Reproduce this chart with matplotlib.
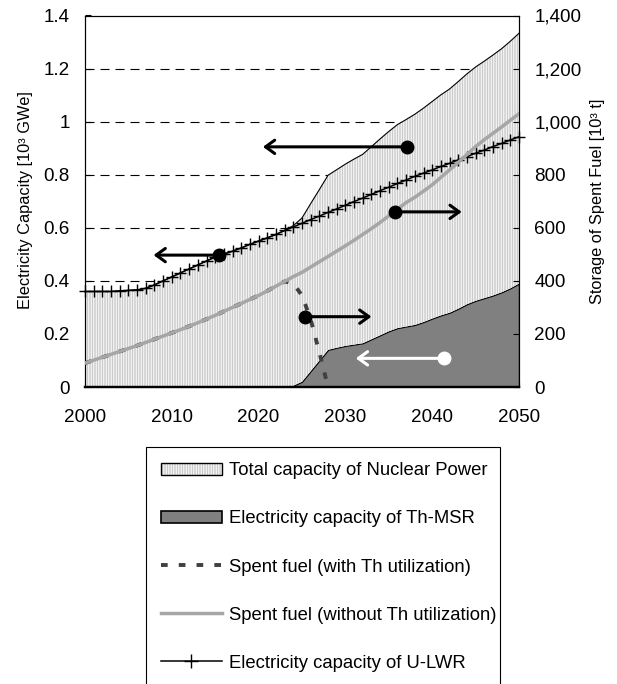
import numpy as np
import matplotlib
matplotlib.use('Agg')
import matplotlib.pyplot as plt
from matplotlib.patches import Patch
from matplotlib.lines import Line2D
from matplotlib.ticker import MultipleLocator, FuncFormatter

plt.rcParams['font.family'] = ['Liberation Sans', 'DejaVu Sans']
plt.rcParams['hatch.linewidth'] = 0.5
plt.rcParams['lines.scale_dashes'] = False

# ---- data ----
years = list(range(2000, 2051))

# electricity capacity of U-LWR [10^3 GWe]
u_lwr = [0.360, 0.360, 0.360, 0.360, 0.362, 0.364, 0.366, 0.372, 0.385, 0.400,
         0.415, 0.430, 0.445, 0.460, 0.475, 0.490, 0.501, 0.512, 0.524, 0.538,
         0.550, 0.562, 0.575, 0.590, 0.603, 0.617, 0.631, 0.644, 0.658, 0.671,
         0.685, 0.699, 0.712, 0.726, 0.740, 0.753, 0.767, 0.780, 0.794, 0.806,
         0.818, 0.831, 0.843, 0.856, 0.868, 0.881, 0.893, 0.906, 0.918, 0.931,
         0.943]

# electricity capacity of Th-MSR [10^3 GWe]
th_msr = [0] * 24 + [0.005, 0.020, 0.060, 0.100, 0.140, 0.148, 0.155, 0.160,
                     0.165, 0.180, 0.195, 0.210, 0.222, 0.228, 0.234, 0.245,
                     0.258, 0.270, 0.280, 0.295, 0.312, 0.325, 0.335, 0.345,
                     0.357, 0.372, 0.390]

# spent fuel without Th utilization [10^3 t]
spent_no_th = [90, 101, 112, 123, 134, 145, 156, 168, 180, 192,
               204, 216, 229, 242, 256, 270, 285, 300, 315, 330,
               345, 362, 380, 398, 416, 432, 452, 472, 492, 512,
               532, 553, 575, 597, 620, 645, 670, 695, 715, 738,
               762, 790, 818, 846, 876, 906, 932, 956, 980, 1005,
               1030]

# spent fuel with Th utilization [10^3 t]
years_th = list(range(2000, 2029))
spent_th = spent_no_th[:24] + [390, 345, 255, 130, 0]

labels = ['Total capacity of Nuclear Power',
          'Electricity capacity of Th-MSR',
          'Spent fuel (with Th utilization)',
          'Spent fuel (without Th utilization)',
          'Electricity capacity of U-LWR']

HATCH = '|' * 10
LIGHT_HATCH = '#b4b4b4'
DARK = '#808080'
DASH = '#404040'
GREY = '#a6a6a6'

fig = plt.figure(figsize=(6.17, 6.84), dpi=100)
ax = fig.add_axes([85 / 617, 1 - 387 / 684, 434 / 617, 371.5 / 684])
ax2 = ax.twinx()

# stacked areas: Th-MSR at the bottom, U-LWR on top -> total
polys = ax.stackplot(years, th_msr, u_lwr, colors=[DARK, 'white'], zorder=1)
polys[1].set_hatch(HATCH)
polys[1].set_edgecolor(LIGHT_HATCH)
polys[1].set_linewidth(0)
polys[0].set_edgecolor('black')
polys[0].set_linewidth(0.9)
total = np.add(th_msr, u_lwr)
ax.plot(years, total, color='black', lw=0.8, zorder=2)

ax.plot(years, u_lwr, color='black', lw=1.1, marker='+', ms=8, mew=1.0,
        zorder=3, clip_on=False)

# spent fuel on the right axis
ax2.plot(years_th, spent_th, color=DASH, lw=2.8, dashes=(4.8, 8), zorder=2)
ax2.plot(years, spent_no_th, color=GREY, lw=2.5, zorder=3)

# arrows pointing to the axis each curve belongs to
arrows = [
    (2037.1, 2020.5, 0.905, 'left', 'black'),
    (2035.7, 2043.4, 660, 'right', 'black'),
    (2015.4, 2007.9, 0.497, 'left', 'black'),
    (2025.3, 2033.0, 265, 'right', 'black'),
    (2041.4, 2031.2, 0.108, 'left', 'white'),
]
for x0, x1, y, side, c in arrows:
    tr = ax.transData if side == 'left' else ax2.transData
    ax2.annotate('', xy=(x1, y), xytext=(x0, y), xycoords=tr, textcoords=tr,
                 arrowprops=dict(arrowstyle='->,head_length=0.55,head_width=0.4',
                                 lw=2.2, color=c, shrinkA=0, shrinkB=0,
                                 mutation_scale=12), zorder=5)
    ax2.plot([x0], [y], 'o', color=c, ms=9, transform=tr, zorder=6)

# axes
ax.set_xlim(2000, 2050)
ax.set_ylim(0, 1.4)
ax2.set_ylim(0, 1400)
ax.set_axisbelow(True)
ax.grid(axis='y', color='black', lw=0.8, linestyle=(0, (6.5, 4.3)))

ax.xaxis.set_major_locator(MultipleLocator(10))
ax.xaxis.set_minor_locator(MultipleLocator(5))
ax.yaxis.set_major_locator(MultipleLocator(0.2))
ax.yaxis.set_major_formatter(FuncFormatter(lambda v, p: '%g' % round(v, 1)))
ax2.yaxis.set_major_locator(MultipleLocator(200))
ax2.yaxis.set_major_formatter(FuncFormatter(lambda v, p: '{:,.0f}'.format(v)))

ax.tick_params(axis='x', which='both', direction='in', length=3.5, width=0.8,
               labelsize=13.6, pad=16)
ax.tick_params(axis='y', direction='in', length=4, width=0.8, labelsize=13.6, pad=11)
ax2.tick_params(axis='y', direction='in', length=4, width=0.8, labelsize=13.6, pad=11)

for a in (ax, ax2):
    for s in a.spines.values():
        s.set_linewidth(0.8)
    a.spines['bottom'].set_linewidth(1.6)

ax.set_ylabel('Electricity Capacity [10³ GWe]', fontsize=11.8)
ax.yaxis.set_label_coords(-0.12, 0.503)
ax2.set_ylabel('Storage of Spent Fuel [10³ t]', fontsize=11.8)
ax2.yaxis.set_label_coords(1.163, 0.5)

# legend below the plot
h_total = (Patch(facecolor='white', edgecolor=LIGHT_HATCH, hatch=HATCH, lw=0),
           Patch(facecolor='none', edgecolor='black', lw=1))
h_msr = Patch(facecolor=DARK, edgecolor='black', lw=1.2)
h_th = Line2D([], [], color=DASH, lw=2.8, dashes=(4.8, 8))
h_no = Line2D([], [], color=GREY, lw=2.5)
h_u = Line2D([], [], color='black', lw=1.1, marker='+', ms=10, mew=1)
leg = fig.legend([h_total, h_msr, h_th, h_no, h_u], labels,
                 loc='upper left',
                 bbox_to_anchor=(145.7 / 617, 0, (500 - 145.7) / 617, 1 - 447.3 / 684),
                 mode='expand', frameon=True, fancybox=False, edgecolor='black',
                 framealpha=1, fontsize=13.3, handlelength=3.3, handleheight=0.62,
                 handletextpad=0.38, borderpad=0.82, labelspacing=1.68,
                 borderaxespad=0)
leg.get_frame().set_linewidth(0.8)

fig.savefig('out.png', dpi=100)
